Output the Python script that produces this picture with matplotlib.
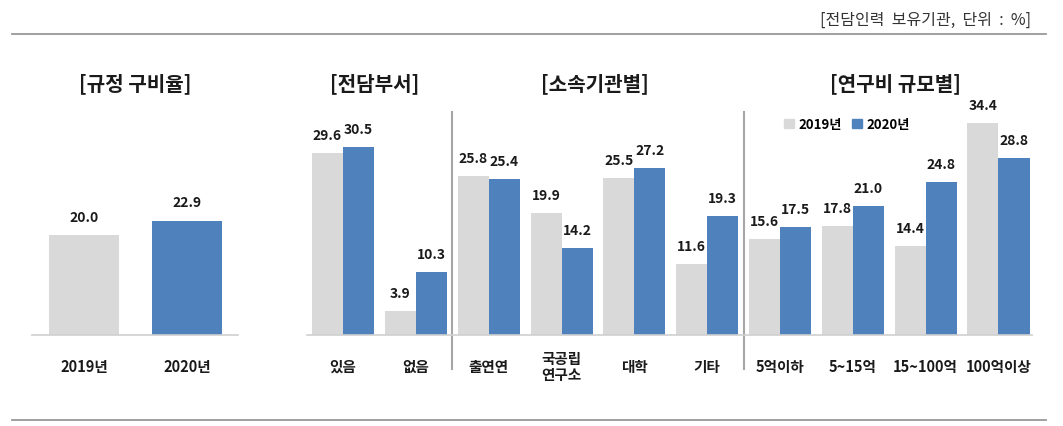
import matplotlib
matplotlib.use('Agg')
import matplotlib.pyplot as plt
from matplotlib.patches import Patch

plt.rcParams['font.family'] = ['Noto Sans CJK KR', 'DejaVu Sans']

years = ['2019년', '2020년']
rule_vals = [20.0, 22.9]

cats = ['있음', '없음', '출연연', '국공립\n연구소', '대학', '기타',
        '5억이하', '5~15억', '15~100억', '100억이상']
v2019 = [29.6, 3.9, 25.8, 19.9, 25.5, 11.6, 15.6, 17.8, 14.4, 34.4]
v2020 = [30.5, 10.3, 25.4, 14.2, 27.2, 19.3, 17.5, 21.0, 24.8, 28.8]

titles = ['[규정 구비율]', '[전담부서]', '[소속기관별]', '[연구비 규모별]']
unit_note = '[전담인력  보유기관,  단위  :  %]'

GRAY = '#D9D9D9'
BLUE = '#4F81BD'
W, H = 1063, 427


def fx(px):
    return px / W


def fy(py):
    return 1 - py / H


fig = plt.figure(figsize=(W / 100, H / 100), dpi=100)

# left panel: 5 px per unit
ax1 = fig.add_axes([fx(32), fy(336), fx(238 - 32), (200) / H])
ax1.bar([0, 1], rule_vals, width=0.68, color=[GRAY, BLUE])
ax1.set_xlim(-0.505, 1.495)
ax1.set_ylim(0, 40)
for i, v in enumerate(rule_vals):
    ax1.annotate(f'{v:.1f}', (i, v), xytext=(0, 18), textcoords='offset pixels',
                 ha='center', va='center', fontsize=10, fontweight='bold', color='#1a1a1a')
    ax1.annotate(years[i], (i, 0), xytext=(0, -31), textcoords='offset pixels',
                 ha='center', va='center', fontsize=10.5, fontweight='bold', color='#1a1a1a')

# right panel: ~6.15 px per unit
ax2 = fig.add_axes([fx(307), fy(336), fx(1032 - 307), 221.4 / H])
bw = 0.426
x = list(range(len(cats)))
b19 = ax2.bar([i - bw / 2 for i in x], v2019, width=bw, color=GRAY, label='2019년')
b20 = ax2.bar([i + bw / 2 for i in x], v2020, width=bw, color=BLUE, label='2020년')
ax2.set_xlim(-0.495, 9.46)
ax2.set_ylim(0, 36)
for i in x:
    ax2.annotate(f'{v2019[i]:.1f}', (i - bw / 2, v2019[i]), xytext=(0, 18),
                 textcoords='offset pixels', ha='center', va='center',
                 fontsize=10, fontweight='bold', color='#1a1a1a')
    ax2.annotate(f'{v2020[i]:.1f}', (i + bw / 2, v2020[i]), xytext=(0, 18),
                 textcoords='offset pixels', ha='center', va='center',
                 fontsize=10, fontweight='bold', color='#1a1a1a')
    ax2.annotate(cats[i], (i, 0), xytext=(0, -31), textcoords='offset pixels',
                 ha='center', va='center', fontsize=10.5, fontweight='bold',
                 color='#1a1a1a', linespacing=1.05)

# group separators
for sx in [1.5, 5.5]:
    ax2.plot([sx, sx], [1.005, -0.154], color='#A6A6A6', lw=1.5,
             transform=ax2.get_xaxis_transform(), clip_on=False)

for ax in (ax1, ax2):
    for s in ['top', 'right', 'left']:
        ax.spines[s].set_visible(False)
    ax.spines['bottom'].set_color('#D0D0D0')
    ax.spines['bottom'].set_linewidth(1.2)
    ax.set_xticks([])
    ax.set_yticks([])
    ax.patch.set_alpha(0)

fig.legend(handles=[Patch(color=GRAY, label='2019년'), Patch(color=BLUE, label='2020년')],
           loc='center left', bbox_to_anchor=(fx(772), fy(125)), ncol=2, frameon=False,
           handlelength=0.75, handleheight=0.75, handletextpad=0.35, columnspacing=0.8,
           prop={'family': ['Noto Sans CJK KR', 'DejaVu Sans'], 'weight': 'bold', 'size': 9.5})

# titles
for t, cx in zip(titles, [135, 375, 595, 895]):
    fig.text(fx(cx), fy(84), t, ha='center', va='center', fontsize=14.5,
             fontweight='bold', color='#1a1a1a')

fig.text(fx(1031), fy(20), unit_note, ha='right', va='center', fontsize=11.5, color='#333333')

# top and bottom rules
for ly in [35.3, 421]:
    fig.add_artist(plt.Line2D([fx(12), fx(1046)], [fy(ly), fy(ly)], color='#999999', lw=1.3))

fig.savefig('out.png', dpi=100)
